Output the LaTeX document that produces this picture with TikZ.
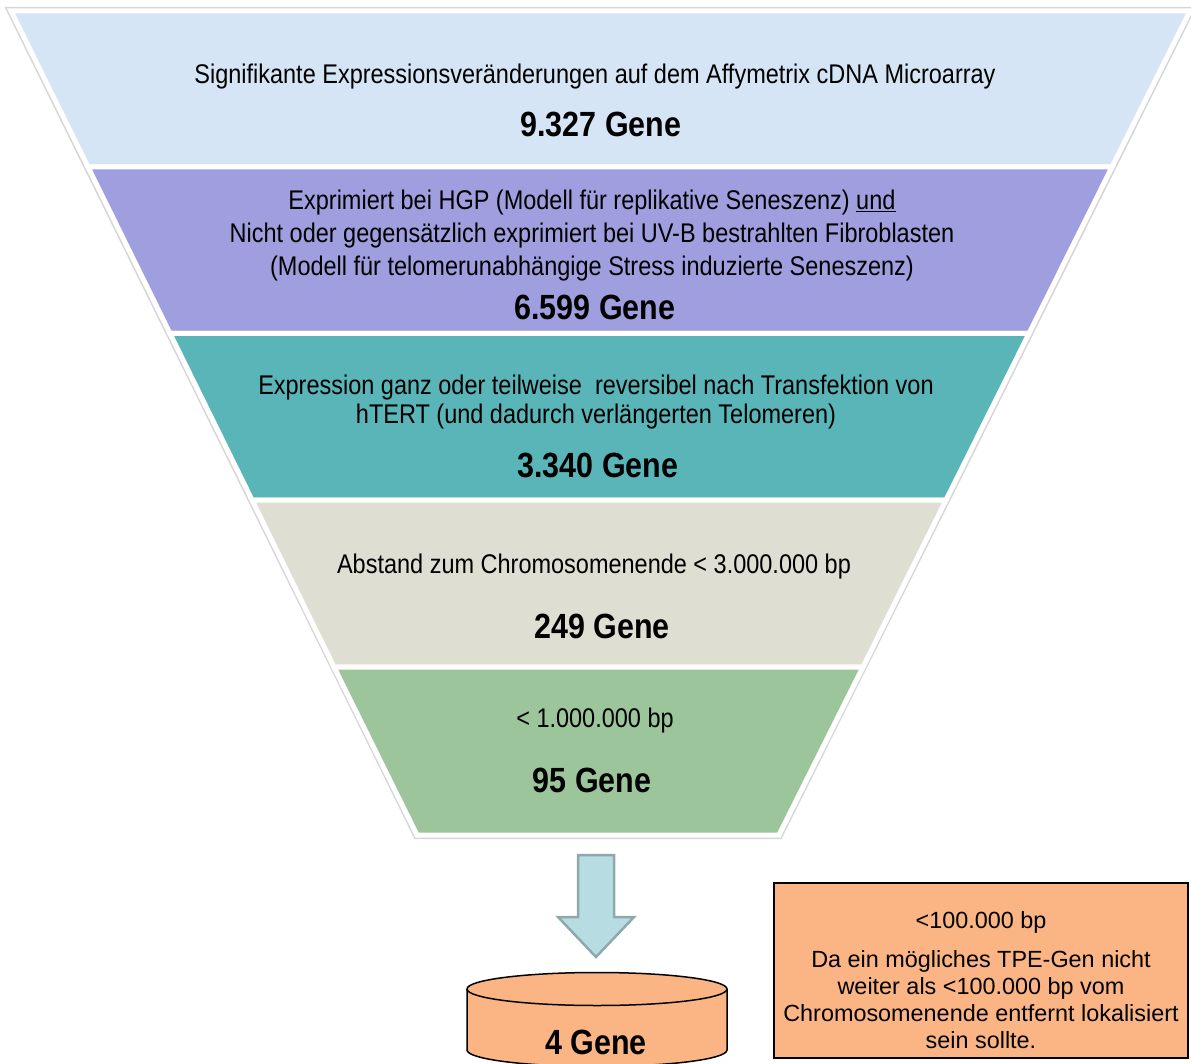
\documentclass[tikz,border=0pt]{standalone}
\usepackage{fontspec}
\setmainfont{Liberation Sans}[FakeStretch=0.87]
\newfontfamily\boxfont{Liberation Sans}
\definecolor{bandA}{HTML}{D5E5F5}
\definecolor{bandB}{HTML}{9F9FDF}
\definecolor{bandC}{HTML}{5AB5B8}
\definecolor{bandD}{HTML}{DEDED3}
\definecolor{bandE}{HTML}{9CC59C}
\definecolor{arrowfill}{HTML}{B7DDE2}
\definecolor{arrowline}{HTML}{8EA9AB}
\definecolor{orangefill}{HTML}{FBB584}
\begin{document}
\begin{tikzpicture}[
 x=1pt,
 y=-1pt,
 band/.style={fill=#1, draw=white, line width=5pt, line join=miter},
 rim/.style={draw=black!16, line width=8pt, line join=miter},
 txt/.style={anchor=base, inner sep=0pt, font=\fontsize{27}{33}\selectfont},
 num/.style={anchor=base, inner sep=0pt, font=\fontsize{35}{40}\selectfont\bfseries},
 boxtxt/.style={anchor=base, inner sep=0pt, font=\boxfont\fontsize{23.4}{27}\selectfont}
]
\useasboundingbox (0,0) rectangle (1191,1064);
\clip (0,0) rectangle (1191,1064);
% funnel
\draw[rim] (11,11) -- (1190,11) -- (779,835) -- (417,835) -- cycle;
\draw[band=bandA] (11,11) -- (1190,11) -- (1112,167) -- (88,167) -- cycle;
\draw[band=bandB] (88,167) -- (1112,167) -- (1029,333.5) -- (170,333.5) -- cycle;
\draw[band=bandC] (170,333.5) -- (1029,333.5) -- (946,500) -- (252,500) -- cycle;
\draw[band=bandD] (252,500) -- (946,500) -- (863,667) -- (334,667) -- cycle;
\draw[band=bandE] (334,667) -- (863,667) -- (779,835) -- (417,835) -- cycle;
% texts in the funnel
\node[txt] (microarray) at (595,84) {Signifikante Expressionsveränderungen auf dem Affymetrix cDNA Microarray};
\node[num] (genesA) at (601,137) {9.327 Gene};
\node[txt] (hgp) at (592,210) {Exprimiert bei HGP (Modell für replikative Seneszenz) \underline{und}};
\node[txt] (uvb) at (592,243) {Nicht oder gegensätzlich exprimiert bei UV-B bestrahlten Fibroblasten};
\node[txt] (stress) at (592,276) {(Modell für telomerunabhängige Stress induzierte Seneszenz)};
\node[num] (genesB) at (595,320) {6.599 Gene};
\node[txt] (htertA) at (596,394) {Expression ganz oder teilweise\ \ reversibel nach Transfektion von};
\node[txt] (htertB) at (596,423) {hTERT (und dadurch verlängerten Telomeren)};
\node[num] (genesC) at (598,477) {3.340 Gene};
\node[txt] (abstand) at (594,573) {Abstand zum Chromosomenende < 3.000.000 bp};
\node[num] (genesD) at (602,638) {249 Gene};
\node[txt] (mbp) at (595,727) {< 1.000.000 bp};
\node[num] (genesE) at (592,792) {95 Gene};
% arrow
\draw[fill=arrowfill, draw=arrowline, line width=2.5pt, line join=miter]
 (578,855) -- (614,855) -- (614,917) -- (634,917) -- (596,957) -- (558,917) -- (578,917) -- cycle;
% cylinder
\draw[fill=orangefill, line width=1.5pt]
 (467,989) -- (467,1050) arc[start angle=180, end angle=0, x radius=130, y radius=16.5] -- (727,989);
\draw[fill=orangefill, line width=1.5pt] (597,989) ellipse[x radius=130, y radius=16.5];
\node[num] (genesF) at (596,1054) {4 Gene};
% box
\draw[fill=orangefill, line width=1.5pt] (774,883) rectangle (1188,1058);
\node[boxtxt] (kbp) at (981,928) {<100.000 bp};
\node[boxtxt] (tpeA) at (981,967) {Da ein mögliches TPE-Gen nicht};
\node[boxtxt] (tpeB) at (981,994) {weiter als <100.000 bp vom};
\node[boxtxt] (tpeC) at (981,1021) {Chromosomenende entfernt lokalisiert};
\node[boxtxt] (tpeD) at (981,1048) {sein sollte.};
\end{tikzpicture}
\end{document}
